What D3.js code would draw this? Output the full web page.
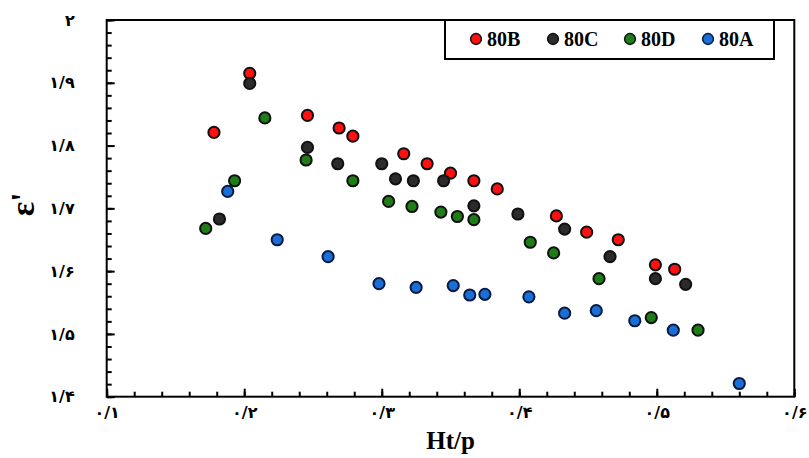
<!DOCTYPE html>
<html>
<head>
<meta charset="utf-8">
<script src="https://cdn.jsdelivr.net/npm/d3@7"></script>
<style>
  body { margin: 0; background: #fff; }
  svg { display: block; }
</style>
</head>
<body>
<svg id="chart" width="809" height="458"></svg>
<script>
// ---- Data ----
const xTicks = [0.1, 0.2, 0.3, 0.4, 0.5, 0.6];
const yTicks = [1.4, 1.5, 1.6, 1.7, 1.8, 1.9, 2.0];
const seriesNames = ["80B", "80C", "80D", "80A"];
const seriesColors = ["#ff1010", "#2c2a2a", "#1f7d17", "#1a6fd6"];
const seriesStroke = ["#111", "#111", "#111", "#0a1a45"];

const s80B_x = [0.178, 0.204, 0.246, 0.269, 0.279, 0.316, 0.333, 0.350, 0.367, 0.384, 0.427, 0.449, 0.472, 0.499, 0.513];
const s80B_y = [1.821, 1.915, 1.848, 1.828, 1.815, 1.787, 1.771, 1.756, 1.744, 1.731, 1.688, 1.662, 1.650, 1.610, 1.603];

const s80C_x = [0.182, 0.204, 0.246, 0.268, 0.300, 0.310, 0.323, 0.345, 0.367, 0.399, 0.433, 0.466, 0.499, 0.521];
const s80C_y = [1.683, 1.899, 1.797, 1.771, 1.771, 1.747, 1.744, 1.744, 1.704, 1.691, 1.667, 1.623, 1.588, 1.579];

const s80D_x = [0.172, 0.193, 0.215, 0.245, 0.279, 0.305, 0.322, 0.343, 0.355, 0.367, 0.408, 0.425, 0.458, 0.496, 0.530];
const s80D_y = [1.668, 1.744, 1.844, 1.777, 1.744, 1.711, 1.703, 1.694, 1.687, 1.682, 1.646, 1.629, 1.588, 1.526, 1.506];

const s80A_x = [0.188, 0.224, 0.261, 0.298, 0.325, 0.352, 0.364, 0.375, 0.407, 0.433, 0.456, 0.484, 0.512, 0.560];
const s80A_y = [1.727, 1.650, 1.623, 1.580, 1.574, 1.577, 1.562, 1.563, 1.559, 1.533, 1.537, 1.521, 1.506, 1.421];

const seriesX = [s80B_x, s80C_x, s80D_x, s80A_x];
const seriesY = [s80B_y, s80C_y, s80D_y, s80A_y];

// ---- Layout ----
const L = 106.7, R = 794.3, T = 20, B = 396.7;
const svg = d3.select("#chart");

const x = d3.scaleLinear().domain([0.1, 0.6]).range([L, R]);
const y = d3.scaleLinear().domain([1.4, 2.0]).range([B, T]);

const fa = "۰۱۲۳۴۵۶۷۸۹";
function toFa(v) {
  const s = (+v.toFixed(1)).toString();
  return s.replace(/[0-9]/g, d => fa[+d]).replace(".", "/");
}

const minorX = d3.range(0.1, 0.6001, 0.02);
const minorY = d3.range(1.4, 2.0001, 0.02);

// minor ticks
svg.append("g").attr("transform", `translate(0,${B})`)
  .call(d3.axisBottom(x).tickValues(minorX).tickSize(-5).tickFormat(""))
  .call(g => g.select(".domain").remove())
  .call(g => g.selectAll("line").attr("stroke", "#000").attr("stroke-width", 2));
svg.append("g").attr("transform", `translate(${L},0)`)
  .call(d3.axisLeft(y).tickValues(minorY).tickSize(-5).tickFormat(""))
  .call(g => g.select(".domain").remove())
  .call(g => g.selectAll("line").attr("stroke", "#000").attr("stroke-width", 2));

// major ticks + labels
svg.append("g").attr("transform", `translate(0,${B})`)
  .call(d3.axisBottom(x).tickValues(xTicks).tickSize(-8).tickPadding(10).tickFormat(toFa))
  .call(g => g.select(".domain").remove())
  .call(g => g.selectAll("line").attr("stroke", "#000").attr("stroke-width", 2))
  .call(g => g.selectAll("text").attr("font-family", "DejaVu Sans").attr("font-weight", "bold")
    .attr("font-size", 16).attr("fill", "#000"));
svg.append("g").attr("transform", `translate(${L},0)`)
  .call(d3.axisLeft(y).tickValues(yTicks).tickSize(-8).tickPadding(32).tickFormat(toFa))
  .call(g => g.select(".domain").remove())
  .call(g => g.selectAll("line").attr("stroke", "#000").attr("stroke-width", 2))
  .call(g => g.selectAll("text").attr("font-family", "DejaVu Sans").attr("font-weight", "bold")
    .attr("font-size", 16).attr("fill", "#000"));

// frame
svg.append("rect").attr("x", L).attr("y", T).attr("width", R - L).attr("height", B - T)
  .attr("fill", "none").attr("stroke", "#000").attr("stroke-width", 2);

// points
seriesNames.forEach((name, i) => {
  svg.append("g").selectAll("circle")
    .data(seriesX[i].map((xv, j) => [xv, seriesY[i][j]]))
    .join("circle")
    .attr("cx", d => x(d[0]))
    .attr("cy", d => y(d[1]))
    .attr("r", 5.6)
    .attr("fill", seriesColors[i])
    .attr("stroke", seriesStroke[i])
    .attr("stroke-width", 2);
});

// axis titles
svg.append("text").attr("x", x(0.35)).attr("y", 449)
  .attr("text-anchor", "middle").attr("font-family", "Liberation Serif")
  .attr("font-weight", "bold").attr("font-size", 25)
  .text("Ht/p");
svg.append("text").attr("transform", `translate(34,${y(1.7) - 4}) rotate(-90)`)
  .attr("text-anchor", "middle").attr("font-family", "Liberation Serif")
  .attr("font-weight", "bold").attr("font-size", 34).text("ε'");

// legend
const lg = svg.append("g");
lg.append("rect").attr("x", 445).attr("y", T).attr("width", 329).attr("height", 39)
  .attr("fill", "#fff").attr("stroke", "#000").attr("stroke-width", 2);
const legX = [476, 553, 630, 708];
seriesNames.forEach((name, i) => {
  lg.append("circle").attr("cx", legX[i]).attr("cy", 39).attr("r", 5.4)
    .attr("fill", seriesColors[i]).attr("stroke", seriesStroke[i]).attr("stroke-width", 1.5);
  lg.append("text").attr("x", legX[i] + 11).attr("y", 46)
    .attr("font-family", "Liberation Serif").attr("font-weight", "bold")
    .attr("font-size", 20).text(name);
});
</script>
</body>
</html>
